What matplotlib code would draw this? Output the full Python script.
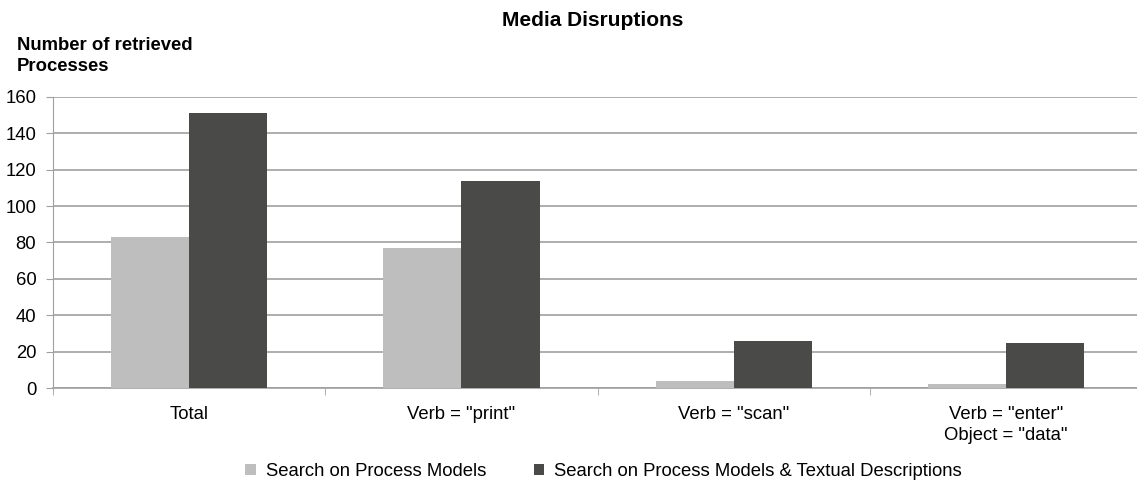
import matplotlib.pyplot as plt
import numpy as np

plt.rcParams['font.family'] = ['Liberation Sans', 'DejaVu Sans']

categories = ['Total', 'Verb = "print"', 'Verb = "scan"', 'Verb = "enter"\nObject = "data"']
models_only = [83, 77, 4, 2]
models_text = [151, 114, 26, 25]
series_names = ['Search on Process Models', 'Search on Process Models & Textual Descriptions']

fig = plt.figure(figsize=(11.37, 4.82), dpi=100)
ax = fig.add_axes([0.0466, 0.195, 0.958, 0.604])

x = np.arange(len(categories))
w = 0.287
ax.bar(x - w / 2, models_only, w, color='#bdbebd', label=series_names[0], zorder=3)
ax.bar(x + w / 2, models_text, w, color='#4a4a49', label=series_names[1], zorder=3)

ax.set_xlim(-0.5, len(categories) - 0.5)
ax.set_ylim(0, 160)
ax.set_yticks(range(0, 161, 20))
ax.yaxis.grid(True, color='#a0a0a0', linewidth=1.2, zorder=0)

ax.set_xticks(x)
ax.set_xticklabels(categories, fontsize=13.3, linespacing=1.3)
ax.set_xticks(np.arange(-0.5, len(categories), 1), minor=True)
ax.tick_params(axis='x', which='major', length=0, pad=13)
ax.tick_params(axis='x', which='minor', length=5, color='#a0a0a0', direction='out')
ax.tick_params(axis='y', length=5, color='#a0a0a0', labelsize=13.3, pad=7)

for s in ['top', 'right']:
    ax.spines[s].set_visible(False)
ax.spines['left'].set_color('#a0a0a0')
ax.spines['bottom'].set_color('#a0a0a0')
ax.spines['bottom'].set_linewidth(1.2)

fig.text(0.521, 0.958, 'Media Disruptions', ha='center', va='center', fontsize=15, fontweight='bold')
fig.text(0.015, 0.884, 'Number of retrieved\nProcesses', ha='left', va='center', fontsize=13.3,
         fontweight='bold', linespacing=1.3)

fig.legend(loc='center', bbox_to_anchor=(0.531, 0.022), ncol=2, frameon=False, fontsize=13.3,
           handlelength=0.55, handleheight=0.55, columnspacing=2.6, handletextpad=0.55,
           borderpad=0)

fig.savefig('out.png', dpi=100)
